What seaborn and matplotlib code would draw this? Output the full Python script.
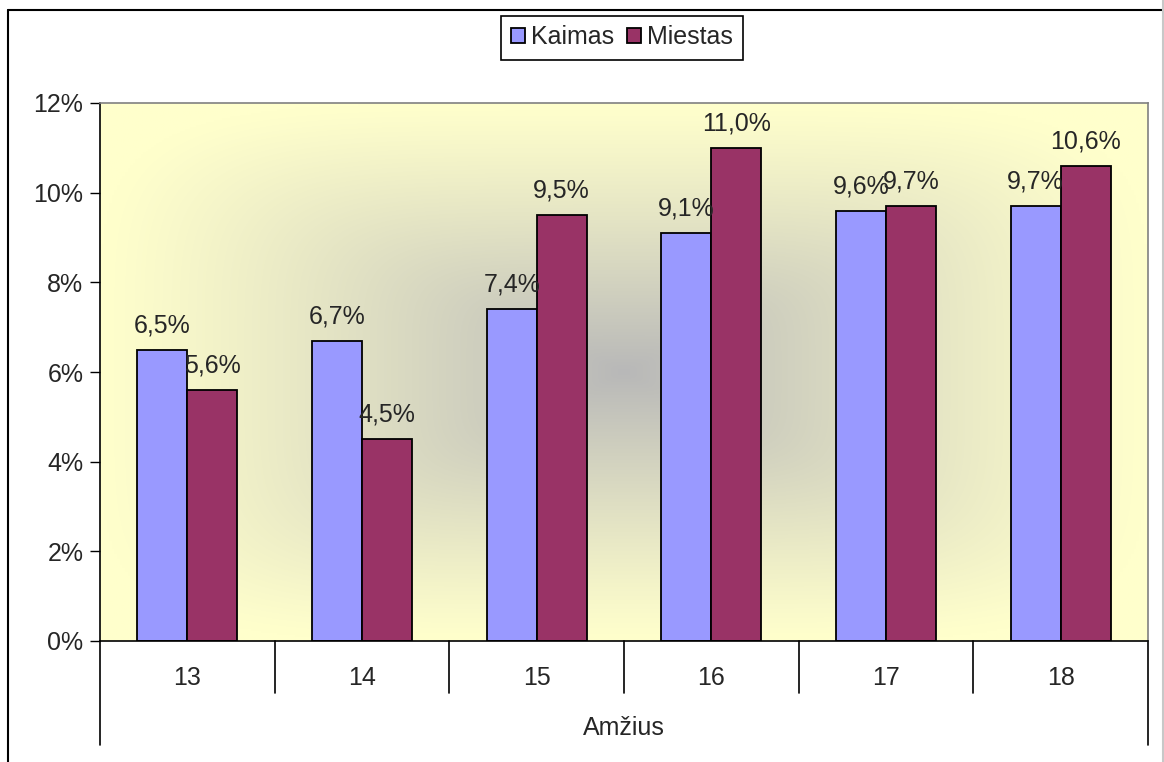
import numpy as np
import pandas as pd
import seaborn as sns
import matplotlib.pyplot as plt
from matplotlib.lines import Line2D
from matplotlib.colors import to_rgb

# duomenys
amzius = ['13', '14', '15', '16', '17', '18']
kaimas = [6.5, 6.7, 7.4, 9.1, 9.6, 9.7]
miestas = [5.6, 4.5, 9.5, 11.0, 9.7, 10.6]
serijos = ['Kaimas', 'Miestas']
spalvos = {'Kaimas': '#9999FF', 'Miestas': '#993366'}
y_ticks = [0, 2, 4, 6, 8, 10, 12]

df = pd.DataFrame({
    'amzius': amzius * 2,
    'reiksme': kaimas + miestas,
    'serija': ['Kaimas'] * len(amzius) + ['Miestas'] * len(amzius),
})

sns.set_style('white')
plt.rcParams['font.family'] = ['Liberation Sans', 'DejaVu Sans']
FS = 18

W, H = 1164, 762
fig = plt.figure(figsize=(W / 100, H / 100), dpi=100)
ax = fig.add_axes([100 / W, 1 - 641 / H, (1148 - 100) / W, (641 - 103) / H])

# gradientinis fonas (is centro)
nx, ny = 400, 300
gx, gy = np.meshgrid(np.linspace(-1, 1, nx), np.linspace(-1, 1, ny))
t = (np.abs(gx) ** 5 + np.abs(gy) ** 5) ** (1 / 5)
t = np.clip(t, 0, 1)
f = (1 - t) ** 1.15
edge = np.array(to_rgb('#FFFFCC'))
center = np.array(to_rgb('#B8B8B8'))
img = edge[None, None, :] * (1 - f[..., None]) + center[None, None, :] * f[..., None]
ax.imshow(img, extent=(-0.5, 5.5, 0, 12), aspect='auto', zorder=0, interpolation='bilinear')

sns.barplot(data=df, x='amzius', y='reiksme', hue='serija', order=amzius,
            hue_order=serijos, palette=spalvos, width=0.572, gap=0,
            edgecolor='black', linewidth=1.3, saturation=1, ax=ax, zorder=2)

for cont in ax.containers:
    lbls = [f'{b.get_height():.1f}%'.replace('.', ',') for b in cont]
    ax.bar_label(cont, labels=lbls, padding=9, fontsize=FS)

ax.set_xlim(-0.5, 5.5)
ax.set_ylim(0, 12)
ax.set_yticks(y_ticks)
ax.set_yticklabels([f'{v}%' for v in y_ticks])
ax.set_ylabel('')
ax.tick_params(axis='y', left=True, length=7, width=1, color='black', labelsize=FS, pad=5)
ax.tick_params(axis='x', length=0, labelsize=FS, pad=18)

for s in ['left', 'bottom']:
    ax.spines[s].set_color('black')
    ax.spines[s].set_linewidth(1.2)
for s in ['top', 'right']:
    ax.spines[s].set_color('#808080')
    ax.spines[s].set_linewidth(1.2)

# kategoriju skirtukai zemiau asies
trans = ax.get_xaxis_transform()
axh = 641 - 103
for i in range(len(amzius) + 1):
    xpos = i - 0.5
    low = -(745 - 641) / axh if i in (0, len(amzius)) else -(693 - 641) / axh
    ax.plot([xpos, xpos], [0, low], color='black', lw=1.2, transform=trans, clip_on=False)

ax.set_xlabel('Amžius', fontsize=FS, va='center')
ax.xaxis.set_label_coords(0.5, -(728 - 641) / axh)

sns.move_legend(ax, 'center', bbox_to_anchor=(622 / W, 1 - 37.5 / H),
                bbox_transform=fig.transFigure, ncol=2, title=None, frameon=True,
                fontsize=FS, handlelength=0.55, handleheight=0.55,
                handletextpad=0.25, columnspacing=0.5, borderpad=0.4,
                borderaxespad=0, fancybox=False, edgecolor='black', framealpha=1)
ax.get_legend().get_frame().set_linewidth(1.2)

# remelis aplink diagrama
fig.add_artist(Line2D([8 / W, 8 / W], [0, 1 - 10 / H], color='black', lw=1.5))
fig.add_artist(Line2D([8 / W, 1162 / W], [1 - 10 / H, 1 - 10 / H], color='black', lw=1.5))
fig.add_artist(Line2D([1162.5 / W, 1162.5 / W], [0, 1], color='#C8C8C8', lw=1.5))

plt.savefig('out.png', dpi=100)
